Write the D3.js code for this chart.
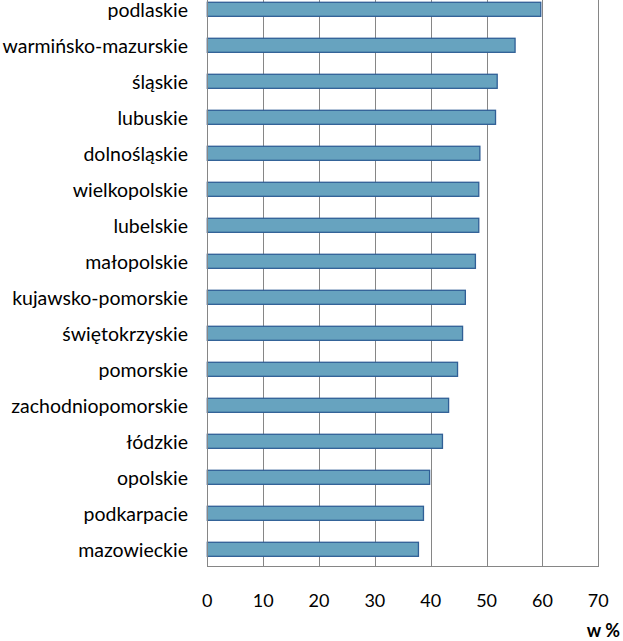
<!DOCTYPE html>
<html>
<head>
<meta charset="utf-8">
<script src="https://cdn.jsdelivr.net/npm/d3@7"></script>
<style>
  html, body { margin: 0; padding: 0; background: #fff; }
  svg { display: block; }
</style>
</head>
<body>
<svg id="chart" width="623" height="641"></svg>
<script>
const categories = ["podlaskie","warmińsko-mazurskie","śląskie","lubuskie","dolnośląskie","wielkopolskie","lubelskie","małopolskie","kujawsko-pomorskie","świętokrzyskie","pomorskie","zachodniopomorskie","łódzkie","opolskie","podkarpacie","mazowieckie"];
const values = [59.7,55.1,51.9,51.6,48.8,48.6,48.6,48.0,46.2,45.7,44.8,43.2,42.1,39.8,38.7,37.8];
const xTicks = [0,10,20,30,40,50,60,70];
const unitLabel = "w %";

(function () {
const svg = d3.select("#chart");
const pLeft = 207.3, pRight = 598.3, pTop = -8.7, pBottom = 567.3;

const x = d3.scaleLinear().domain([0,70]).range([pLeft,pRight]);
const y = d3.scaleBand().domain(categories).range([pTop,pBottom]).paddingInner(0.61).paddingOuter(0.305);

const font = "Lato, 'Open Sans', sans-serif";

// gridlines
svg.append("g").selectAll("line").data(xTicks).join("line")
  .attr("x1", d => Math.round(x(d)) + 0.5).attr("x2", d => Math.round(x(d)) + 0.5)
  .attr("y1", pTop).attr("y2", Math.round(pBottom))
  .attr("stroke", "#868686").attr("stroke-width", 1);

// bottom border
svg.append("line")
  .attr("x1", Math.round(x(0)) + 0.5).attr("x2", Math.round(x(70)) + 0.5)
  .attr("y1", Math.round(pBottom) - 0.5).attr("y2", Math.round(pBottom) - 0.5)
  .attr("stroke", "#868686").attr("stroke-width", 1);

// bars
svg.append("g").selectAll("rect").data(values).join("rect")
  .attr("x", x(0))
  .attr("y", (d,i) => y(categories[i]))
  .attr("width", d => x(d) - x(0))
  .attr("height", y.bandwidth())
  .attr("fill", "#67a3bf")
  .attr("stroke", "#305f96")
  .attr("stroke-width", 1.3);

// left axis line
svg.append("line")
  .attr("x1", Math.round(x(0)) + 0.5).attr("x2", Math.round(x(0)) + 0.5)
  .attr("y1", pTop).attr("y2", Math.round(pBottom))
  .attr("stroke", "#868686").attr("stroke-width", 1);

// category labels
svg.append("g").selectAll("text").data(categories).join("text")
  .attr("x", 188)
  .attr("y", d => y(d) + y.bandwidth()/2)
  .attr("dy", "0.38em")
  .attr("text-anchor", "end")
  .attr("font-family", font)
  .attr("font-size", 19.5)
  .attr("fill", "#000")
  .text(d => d);

// x tick labels
svg.append("g").selectAll("text").data(xTicks).join("text")
  .attr("x", d => x(d))
  .attr("y", 607)
  .attr("text-anchor", "middle")
  .attr("font-family", font)
  .attr("font-size", 18)
  .attr("fill", "#000")
  .text(d => d);

// unit label
svg.append("text")
  .attr("x", 620).attr("y", 637)
  .attr("text-anchor", "end")
  .attr("font-family", font)
  .attr("font-size", 18)
  .attr("font-weight", "bold")
  .attr("fill", "#000")
  .text(unitLabel);
})();
</script>
</body>
</html>
